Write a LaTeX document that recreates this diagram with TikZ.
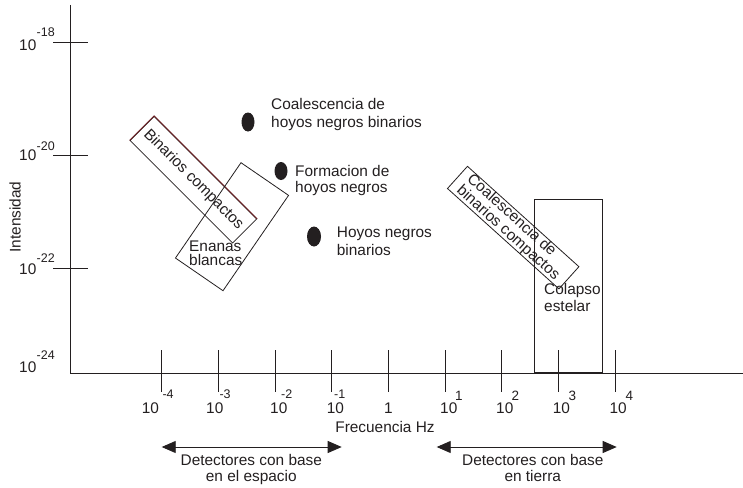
\documentclass[tikz,border=0pt]{standalone}
\usepackage{fontspec}
\setmainfont{Liberation Sans}
\usetikzlibrary{arrows.meta,positioning,shapes.geometric}
\definecolor{ink}{RGB}{35,31,32}
\definecolor{bcred}{RGB}{110,30,35}

\begin{document}
\begin{tikzpicture}[x=1pt,y=-1pt,
  txt/.style={font=\fontsize{15.4}{17.5}\selectfont,text=ink,inner sep=0pt},
  expn/.style={font=\fontsize{12.5}{13}\selectfont,text=ink,inner sep=0pt,anchor=base west},
  expp/.style={font=\fontsize{13.5}{14}\selectfont,text=ink,inner sep=0pt,anchor=base west},
  box/.style={draw=ink,line width=0.8pt,inner sep=0pt},
  blob/.style={ellipse,fill=ink,inner sep=0pt},
  detrange/.style={draw=ink,line width=0.9pt,{Triangle[length=14pt,width=12pt]}-{Triangle[length=14pt,width=12pt]}}]

\useasboundingbox (0,0) rectangle (743,487);

% axes
\coordinate (top) at (70.3,5);
\coordinate (o) at (70.3,373);
\coordinate (right) at (743,373);
\draw[ink,line width=0.9pt] (top) -- (o) -- (right);

% intensity ticks
\foreach \y in {42.3,155.3,268}
  \draw[ink,line width=0.9pt] (53.3,\y) -- (88.3,\y);
\foreach \b/\e/\eb in {50/-18/37, 160/-20/150, 274/-22/262, 372/-24/359}{
  \node[txt,anchor=base west] (yl\e) at (19,\b) {10};
  \node[expn] (ye\e) at (36.5,\eb) {\e};
}
\node[txt,rotate=90,anchor=base] (inten) at (20.5,217) {Intensidad};

% frequency ticks
\foreach \i in {-4,...,4}
  \draw[ink,line width=0.9pt] ({388.3+56.67*\i},350) -- ({388.3+56.67*\i},392);
\foreach \l/\e/\ex in {141.7/-4/162.3, 206/-3/219.3, 270/-2/281, 326.7/-1/334}{
  \node[txt,anchor=base west] (xl\e) at (\l,413) {10};
  \node[expn] (xe\e) at (\ex,398) {\e};
}
\foreach \l/\e/\ex in {440/1/455, 496/2/511.5, 552.7/3/568.5, 609.3/4/625.5}{
  \node[txt,anchor=base west] (xl\e) at (\l,413) {10};
  \node[expp] (xe\e) at (\ex,400) {\e};
}
\node[txt,anchor=base] (xl0) at (388.3,413) {1};
\node[txt,anchor=base] (freq) at (385,432) {Frecuencia Hz};

% detector ranges
\coordinate (sl) at (161.7,447);
\coordinate (sr) at (341.7,447);
\coordinate (tl) at (436.7,447);
\coordinate (tr) at (616.7,447);
\draw[detrange] (sl) -- (sr);
\draw[detrange] (tl) -- (tr);
\node[txt,align=center,anchor=north,font=\fontsize{15.4}{16}\selectfont] (space) at (251.3,454.5) {Detectores con base\\en el espacio};
\node[txt,align=center,anchor=north,font=\fontsize{15.4}{16}\selectfont] (ground) at (532.8,454.5) {Detectores con base\\en tierra};

% sources
\node[box,txt,rotate=-45,minimum width=145pt,minimum height=34pt] (bincomp) at (193.4,179.7) {Binarios compactos};
\draw[bcred,line width=0.8pt] (bincomp.south west) -- (bincomp.north west) -- (bincomp.north east);
\node[box,rotate=-34.5,minimum width=57.7pt,minimum height=115.7pt] (enbox) at (232,226.7) {};
\node[txt,align=left,anchor=north west,font=\fontsize{15.4}{13.5}\selectfont] (enanas) at (189,241) {Enanas\\blancas};

\node[blob,minimum width=13pt,minimum height=19pt] (bh1) at (248,122) {};
\node[blob,minimum width=13pt,minimum height=18pt] (bh2) at (281,171) {};
\node[blob,minimum width=14pt,minimum height=20pt] (bh3) at (314,236.5) {};
\node[txt,align=left,anchor=north west] (coal) at (271,98.2) {Coalescencia de\\hoyos negros binarios};
\node[txt,align=left,anchor=north west,font=\fontsize{15.4}{16.5}\selectfont] (form) at (295,165) {Formacion de\\hoyos negros};
\node[txt,align=left,anchor=north west] (hnb) at (336.7,227) {Hoyos negros\\binarios};

\node[box,txt,rotate=-42,minimum width=150pt,minimum height=28pt,align=left,font=\fontsize{15.4}{15.5}\selectfont] (coalbin) at (513.2,227.6) {Coalescencia de\\binarios compactos};
\node[box,anchor=south west,minimum width=68pt,minimum height=173.7pt] (colbox) at (534.3,373) {};
\node[txt,align=left,anchor=north west] (colapso) at (544,283) {Colapso\\estelar};
\end{tikzpicture}
\end{document}
